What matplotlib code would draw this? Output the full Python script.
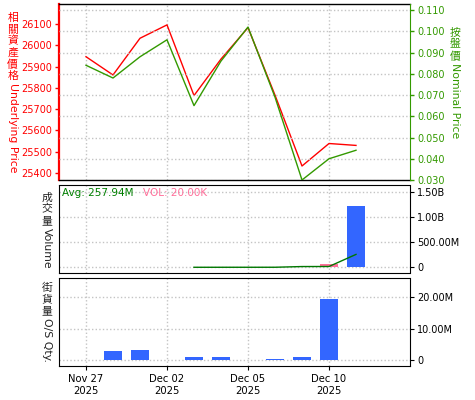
import numpy as np
import matplotlib
matplotlib.use("Agg")
import matplotlib.pyplot as plt

plt.rcParams['font.family'] = ['DejaVu Sans', 'Noto Sans CJK TC']

W, H = 475, 400

# trading days, index 0 = Nov 27 2025
days = ["Nov 27", "Nov 28", "Dec 01", "Dec 02", "Dec 03", "Dec 04",
        "Dec 05", "Dec 08", "Dec 09", "Dec 10", "Dec 11"]
tick_pos = [0, 3, 6, 9]
tick_labels = ["Nov 27\n2025", "Dec 02\n2025", "Dec 05\n2025", "Dec 10\n2025"]

underlying = [25947, 25861, 26034, 26097, 25764, 25936, 26084, 25766, 25432, 25538, 25529]
nominal = [0.084, 0.078, 0.088, 0.096, 0.065, 0.086, 0.102, 0.069, 0.030, 0.040, 0.044]

# volume (millions); split by bar colour
vol_blue = [0, 0, 0, 0, 0, 0, 0, 0, 0, 0, 1226]
vol_pink = [0, 0, 0, 0, 0, 0, 0, 0, 0, 66, 0]
vol_avg = [np.nan, np.nan, np.nan, np.nan, 0.4, 0.6, 0.7, 1.0, 15, 16, 258]

# outstanding quantity (millions)
os_qty = [0, 3.05, 3.37, 0, 1.14, 1.14, 0, 0.4, 1.05, 19.56, 0]

RED = '#ff0000'
GREEN = '#339900'
BLUE = '#3366ff'
PINK = '#ff6f9a'
GRID = '#c4c4c4'
GRID_LS = (0, (1, 1.6))
DOT = (0, (1, 1))

x = np.arange(len(days))


def rect(top, bottom):
    return [59 / W, 1 - bottom / H, 351 / W, (bottom - top) / H]


def vlabel(fig, xp, yp, cjk, latin, color, size=7.8, step=11.7):
    # upright CJK characters stacked, latin text turned clockwise
    for i, ch in enumerate(cjk):
        fig.text(xp / W, 1 - (yp + step * (i + 0.5)) / H, ch, ha='center', va='center',
                 color=color, fontsize=size, family='Noto Sans CJK TC')
    fig.text(xp / W, 1 - (yp + step * len(cjk) + 1) / H, latin, rotation=-90,
             ha='center', va='top', color=color, fontsize=size, family='DejaVu Sans')


fig = plt.figure(figsize=(W / 100, H / 100), dpi=100)

# ---- price panel
ax1 = fig.add_axes(rect(4.3, 180))
ax1r = ax1.twinx()
ax1.plot(x, underlying, color=RED, lw=1)
ax1r.plot(x, nominal, color=GREEN, lw=1)
ax1.set_xlim(-1, 12)
ax1.set_ylim(25366, 26194)
ax1r.set_ylim(0.030, 0.1127)
ax1.set_yticks(range(25400, 26101, 100))
ax1r.set_yticks(np.arange(0.03, 0.1101, 0.01))
ax1r.yaxis.set_major_formatter(plt.FuncFormatter(lambda v, p: f"{v:.3f}"))
ax1.set_xticks(tick_pos)
ax1.tick_params(axis='x', length=0, labelbottom=False)
ax1.tick_params(axis='y', colors=RED, labelsize=7, length=3, width=1, pad=2)
ax1r.tick_params(axis='y', colors=GREEN, labelsize=7, length=3, width=1, pad=2)
ax1.grid(axis='x', color=GRID, ls=GRID_LS, lw=1)
ax1r.grid(axis='y', color=GRID, ls=GRID_LS, lw=1)
ax1r.set_axisbelow(True)
for s in ['left', 'top', 'bottom']:
    ax1r.spines[s].set_visible(False)
ax1.spines['right'].set_visible(False)
ax1.spines['left'].set_color(RED)
ax1.spines['left'].set_linewidth(1.6)
ax1r.spines['right'].set_color(GREEN)
for s in ['top', 'bottom']:
    ax1.spines[s].set_linestyle(DOT)
    ax1.spines[s].set_linewidth(1)

# ---- volume panel
ax2 = fig.add_axes(rect(185, 273.3))
ax2.bar(x, vol_blue, width=0.7, color=BLUE, zorder=2)
ax2.bar(x, vol_pink, width=0.7, color=PINK, zorder=2)
ax2.plot(x, vol_avg, color='#007700', lw=1, zorder=3)
ax2.set_xlim(-1, 12)
ax2.set_ylim(-120, 1646)
ax2.set_yticks([0, 500, 1000, 1500])
ax2.set_yticklabels(["0", "500.00M", "1.00B", "1.50B"])
ax2.set_xticks(tick_pos)
ax2.tick_params(axis='x', length=0, labelbottom=False)
ax2.yaxis.tick_right()
ax2.tick_params(axis='y', labelsize=7, length=3, pad=2)
ax2.grid(color=GRID, ls=GRID_LS, lw=1)
ax2.set_axisbelow(True)
for s in ['left', 'top', 'bottom']:
    ax2.spines[s].set_linestyle(DOT)
ax2.text(3 / 351, 0.965, "Avg: 257.94M", transform=ax2.transAxes, va='top',
         color='#008000', fontsize=7.5)
ax2.text(84 / 351, 0.965, "VOL: 20.00K", transform=ax2.transAxes, va='top',
         color='#ff6f9a', fontsize=7.5)

# ---- outstanding quantity panel
ax3 = fig.add_axes(rect(278.3, 366))
ax3.bar(x, os_qty, width=0.7, color=BLUE, zorder=2)
ax3.set_xlim(-1, 12)
ax3.set_ylim(-1.81, 26.03)
ax3.set_yticks([0, 10, 20])
ax3.set_yticklabels(["0", "10.00M", "20.00M"])
ax3.set_xticks(tick_pos)
ax3.set_xticklabels(tick_labels)
ax3.yaxis.tick_right()
ax3.tick_params(axis='y', labelsize=7, length=3, pad=2)
ax3.tick_params(axis='x', labelsize=7.2, length=3, pad=3)
ax3.grid(color=GRID, ls=GRID_LS, lw=1)
ax3.set_axisbelow(True)
for s in ['left', 'top']:
    ax3.spines[s].set_linestyle(DOT)

# ---- axis titles
vlabel(fig, 12.7, 12, "相關資產價格", "Underlying Price", RED)
vlabel(fig, 455.5, 27, "按盤價", "Nominal Price", GREEN)
vlabel(fig, 47, 192, "成交量", "Volume", '#222222')
vlabel(fig, 47, 282, "街貨量", "O/S Qty.", '#222222')

fig.savefig("out.png", dpi=100)
